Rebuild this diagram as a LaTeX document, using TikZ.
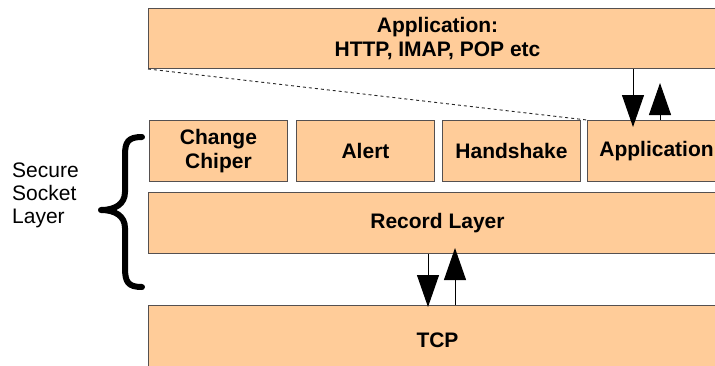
\documentclass[tikz,border=0pt]{standalone}
\usepackage{fontspec}
\setmainfont{Liberation Sans}
\usetikzlibrary{arrows.meta}
\definecolor{boxfill}{HTML}{FFCC99}
\definecolor{boxline}{HTML}{555050}
\tikzset{
  layerbox/.style={draw=boxline, line width=1pt, fill=boxfill, anchor=north west,
    inner sep=0pt, align=center, font=\fontsize{21}{23.5}\selectfont\bfseries},
  arr/.style={line width=1pt, -{Triangle[length=32pt,width=22pt]}},
  dashconn/.style={dashed, line width=0.9pt, draw=black!85},
  brace/.style={line width=6pt, line cap=round, line join=round}
}
\begin{document}
\begin{tikzpicture}[x=1pt,y=-1pt]
\useasboundingbox (0,0) rectangle (715,365);
\clip (0,0) rectangle (715,365);
\node[layerbox, minimum width=578pt, minimum height=60pt] (app) at (148,8) {Application:\\HTTP, IMAP, POP etc};
\node[layerbox, minimum width=138pt, minimum height=61pt] (cc) at (149,120) {Change\\Chiper};
\node[layerbox, minimum width=138pt, minimum height=61pt] (alert) at (296,120) {Alert};
\node[layerbox, minimum width=138pt, minimum height=61pt] (hs) at (442,120) {Handshake};
\node[layerbox, minimum width=138pt, minimum height=61pt] (appl) at (587,120) {Application};
\node[layerbox, minimum width=578pt, minimum height=61pt] (rec) at (148,192) {Record Layer};
\node[layerbox, minimum width=578pt, minimum height=70pt] (tcp) at (148,305) {TCP};
\node[anchor=west, align=left, inner sep=0pt, font=\fontsize{21}{23}\selectfont] (ssl) at (12,195) {Secure\\Socket\\Layer};
% dashed connector
\draw[dashconn] (app.south west) -- (appl.north west);
% arrows top
\coordinate (d1) at (633,0);
\coordinate (u1) at (660,0);
\draw[arr] (app.south -| d1) -- ([yshift=-7pt]appl.north -| d1);
\draw[arr] (appl.north -| u1) -- ([yshift=37pt]appl.north -| u1);
% arrows bottom
\coordinate (d2) at (428,0);
\coordinate (u2) at (455,0);
\draw[arr] (rec.south -| d2) -- ([yshift=-2pt]tcp.north -| d2);
\draw[arr] (tcp.north -| u2) -- ([yshift=6pt]rec.south -| u2);
% brace
\coordinate (bt) at (142,137);
\coordinate (bm) at (101,210);
\coordinate (bb) at (142,287);
\draw[brace] (bt) .. controls (128,137) and (125,142) .. (125,155)
  -- (125,192) .. controls (125,204) and (115,210) .. (bm)
  .. controls (115,210) and (125,216) .. (125,228)
  -- (125,268) .. controls (125,282) and (128,287) .. (bb);
\end{tikzpicture}
\end{document}
